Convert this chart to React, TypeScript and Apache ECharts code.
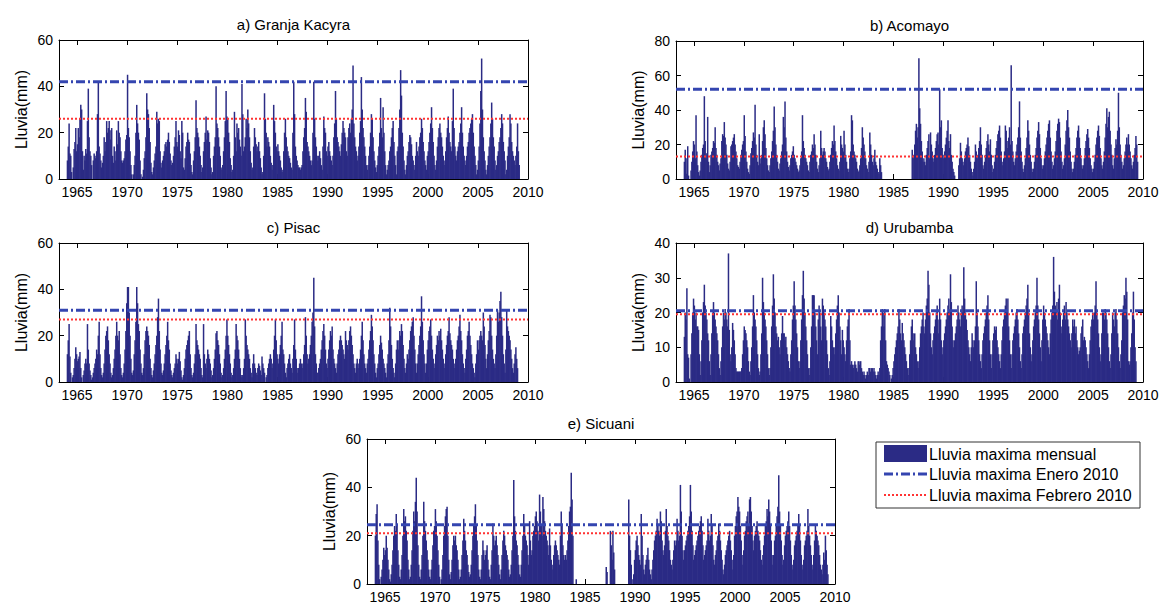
import React, { useEffect, useRef } from "react";
import * as echarts from "echarts";

// ---------- data ----------
const startYear = 1964;
const tickYears = [1965, 1970, 1975, 1980, 1985, 1990, 1995, 2000, 2005, 2010];
const panelTitles = ["a) Granja Kacyra", "b) Acomayo", "c) Pisac", "d) Urubamba", "e) Sicuani"];
const yMax = [60, 80, 60, 40, 60];
const yInterval = [20, 20, 20, 10, 20];
const eneroMax = [42, 52, 31, 20.5, 24.5];
const febreroMax = [26, 13, 27, 19.5, 21];
const legendTexts = ["Lluvia maxima mensual", "Lluvia maxima Enero 2010", "Lluvia maxima Febrero 2010"];

// monthly maximum rainfall (mm), one row per year from 1964, Jan..Dec
const granjaKacyra = [
  [8, 14, 24, 11, 10, 3, 0, 5, 13, 16, 22, 12],
  [15, 22, 18, 26, 32, 30, 12, 4, 10, 8, 13, 11],
  [25, 39, 18, 12, 10, 6, 0, 8, 11, 10, 9, 12],
  [28, 42, 14, 11, 8, 5, 7, 10, 18, 12, 16, 25],
  [20, 22, 25, 21, 17, 22, 10, 7, 14, 12, 8, 21],
  [15, 25, 20, 18, 12, 8, 7, 8, 9, 12, 17, 19],
  [45, 22, 18, 12, 6, 2, 0, 2, 6, 10, 20, 32],
  [24, 20, 17, 8, 2, 0, 1, 4, 9, 12, 18, 37],
  [30, 28, 22, 16, 7, 3, 2, 5, 8, 11, 14, 29],
  [24, 26, 25, 12, 7, 5, 8, 10, 12, 15, 16, 14],
  [17, 20, 16, 11, 8, 6, 7, 10, 14, 18, 25, 16],
  [14, 21, 19, 12, 9, 25, 20, 5, 4, 9, 14, 16],
  [20, 17, 16, 11, 6, 3, 2, 8, 12, 18, 34, 22],
  [20, 18, 14, 10, 6, 3, 5, 12, 16, 20, 27, 17],
  [21, 20, 16, 9, 5, 2, 3, 10, 14, 18, 40, 24],
  [22, 18, 14, 10, 5, 4, 6, 12, 18, 25, 38, 27],
  [26, 20, 16, 9, 6, 3, 4, 10, 29, 18, 12, 24],
  [20, 22, 17, 14, 10, 41, 28, 12, 14, 18, 26, 22],
  [30, 24, 18, 12, 7, 4, 5, 14, 22, 18, 15, 12],
  [14, 16, 12, 9, 5, 2, 3, 10, 37, 26, 20, 14],
  [18, 16, 14, 10, 7, 4, 6, 32, 25, 20, 14, 12],
  [15, 12, 10, 8, 5, 3, 4, 12, 20, 26, 18, 14],
  [12, 10, 9, 7, 5, 4, 20, 42, 28, 14, 10, 8],
  [6, 5, 5, 4, 5, 6, 12, 18, 22, 35, 29, 16],
  [14, 12, 10, 8, 6, 8, 20, 42, 26, 18, 14, 10],
  [8, 10, 12, 9, 6, 4, 14, 27, 22, 20, 12, 10],
  [14, 16, 12, 10, 8, 6, 10, 18, 24, 38, 26, 18],
  [16, 14, 12, 10, 15, 20, 25, 22, 20, 18, 12, 10],
  [18, 22, 24, 20, 26, 30, 49, 24, 18, 14, 12, 8],
  [10, 14, 20, 25, 44, 30, 22, 18, 14, 10, 6, 4],
  [6, 10, 14, 20, 28, 26, 18, 12, 8, 5, 3, 6],
  [10, 14, 20, 35, 22, 18, 31, 20, 12, 6, 2, 4],
  [6, 8, 12, 14, 18, 22, 25, 16, 10, 6, 2, 12],
  [14, 22, 30, 47, 36, 20, 14, 8, 4, 2, 6, 10],
  [12, 16, 19, 18, 15, 10, 8, 6, 4, 10, 16, 12],
  [10, 14, 18, 20, 26, 22, 16, 12, 8, 6, 4, 10],
  [12, 16, 20, 24, 31, 22, 16, 10, 6, 4, 8, 14],
  [18, 22, 24, 20, 18, 14, 10, 8, 6, 12, 18, 22],
  [27, 20, 16, 14, 12, 25, 39, 22, 14, 10, 8, 12],
  [14, 16, 20, 24, 31, 20, 14, 10, 8, 6, 10, 14],
  [16, 20, 22, 24, 26, 28, 20, 14, 10, 6, 2, 4],
  [8, 14, 24, 38, 52, 30, 18, 12, 8, 4, 2, 6],
  [10, 14, 18, 24, 33, 26, 18, 14, 8, 4, 6, 10],
  [12, 16, 18, 22, 28, 24, 16, 12, 8, 2, 4, 10],
  [14, 18, 28, 24, 16, 12, 10, 8, 6, 10, 14, 24],
  [12, 6],
];

const acomayo = [
  [10, 17, 12, 3, 19, 2, 0, 0, 5, 10, 16, 22],
  [20, 12, 37, 16, 8, 4, 2, 5, 10, 14, 18, 20],
  [48, 22, 12, 15, 36, 10, 4, 8, 14, 16, 18, 22],
  [21, 30, 18, 14, 10, 8, 5, 9, 12, 22, 26, 25],
  [33, 24, 20, 14, 9, 6, 5, 10, 19, 20, 22, 24],
  [26, 20, 16, 12, 8, 7, 6, 10, 14, 17, 20, 22],
  [37, 25, 16, 10, 6, 4, 3, 8, 15, 18, 22, 27],
  [24, 43, 20, 14, 10, 8, 26, 12, 9, 14, 22, 30],
  [34, 26, 18, 12, 8, 5, 4, 8, 12, 16, 22, 28],
  [42, 30, 20, 14, 10, 6, 5, 9, 12, 16, 20, 36],
  [30, 45, 24, 16, 10, 7, 5, 8, 12, 14, 16, 19],
  [14, 12, 10, 8, 6, 4, 5, 8, 12, 16, 37, 22],
  [18, 14, 12, 10, 8, 5, 4, 10, 14, 16, 20, 18],
  [26, 20, 14, 10, 6, 4, 8, 12, 28, 18, 14, 16],
  [18, 16, 12, 10, 7, 5, 6, 10, 14, 18, 22, 20],
  [31, 22, 16, 12, 8, 6, 5, 10, 25, 20, 18, 16],
  [28, 20, 14, 10, 6, 4, 6, 12, 16, 37, 34, 20],
  [16, 14, 12, 10, 6, 4, 5, 8, 12, 18, 30, 24],
  [20, 16, 12, 8, 6, 4, 10, 27, 20, 14, 10, 8],
  [12, 17, 10, 8, 6, 4, 3, 12, 8, 4],
  [],
  [],
  [null, null, null, null, null, null, null, null, null, null, 17, 12],
  [14, 20, 28, 32, 24, 30, 70, 41, 32, 22, 16, 10],
  [12, 10, 8, 14, 18, 22, 26, 12, 27, 20, 16, 12],
  [10, 14, 18, 22, 26, 27, 20, 52, 30, 34, 18, 14],
  [12, 16, 20, 24, 28, 34, 22, 18, 26, 14, 10, 6],
  [4, 2, null, null, null, null, 8, 12, 21, 16, 12, 10],
  [8, 12, 16, 18, 20, 24, 19, 14, 10, 6, 4, 2],
  [6, 10, 20, 16, 12, 14, 18, 22, 30, 20, 14, 8],
  [6, 10, 14, 18, 22, 26, 20, 16, 23, 14, 8, 4],
  [6, 10, 14, 18, 22, 26, 28, 31, 24, 16, 10, 8],
  [12, 16, 31, 28, 22, 18, 24, 30, 20, 66, 22, 16],
  [10, 8, 12, 16, 20, 24, 30, 45, 24, 16, 10, 6],
  [4, 8, 12, 18, 24, 34, 28, 20, 14, 10, 6, 4],
  [6, 10, 14, 18, 24, 28, 33, 26, 18, 12, 8, 6],
  [8, 12, 16, 20, 24, 28, 32, 34, 24, 16, 10, 6],
  [8, 12, 16, 22, 28, 32, 35, 33, 24, 16, 10, 6],
  [8, 12, 20, 28, 34, 40, 30, 24, 16, 10, 6, 4],
  [6, 10, 14, 18, 24, 28, 31, 24, 18, 12, 8, 6],
  [8, 12, 18, 22, 26, 29, 24, 18, 12, 8, 6, 4],
  [6, 10, 14, 20, 24, 28, 31, 25, 18, 12, 8, 6],
  [10, 16, 24, 32, 41, 30, 36, 39, 28, 20, 14, 8],
  [6, 12, 18, 23, 20, 28, 50, 30, 20, 14, 10, 6],
  [8, 12, 16, 20, 24, 20, 26, 20, 16, 12, 8, 6],
  [10, 14, 18, 25, 20, 10],
];

const pisac = [
  [12, 18, 25, 11, 4, 0, 2, 3, 6, 10, 15, 12],
  [9, 10, 11, 13, 6, 2, 0, 3, 5, 8, 10, 8],
  [25, 14, 8, 5, 3, 1, 2, 4, 6, 8, 10, 14],
  [12, 20, 26, 12, 6, 3, 2, 4, 8, 14, 20, 22],
  [24, 18, 12, 8, 4, 2, 3, 6, 10, 14, 20, 26],
  [20, 18, 22, 12, 6, 3, 2, 4, 8, 14, 22, 34],
  [41, 41, 30, 20, 10, 4, 3, 5, 12, 18, 26, 41],
  [34, 25, 22, 14, 8, 4, 3, 6, 12, 18, 22, 24],
  [22, 20, 16, 10, 6, 3, 2, 5, 8, 12, 16, 20],
  [28, 36, 22, 14, 8, 4, 3, 5, 8, 12, 16, 20],
  [26, 18, 14, 8, 5, 3, 2, 4, 6, 8, 12, 10],
  [8, 10, 13, 9, 5, 2, 1, 3, 6, 10, 14, 16],
  [18, 20, 22, 12, 6, 3, 2, 4, 8, 12, 25, 18],
  [16, 14, 12, 10, 6, 3, 2, 25, 12, 8, 6, 10],
  [14, 12, 10, 8, 5, 2, 3, 6, 10, 14, 21, 22],
  [18, 16, 12, 8, 4, 2, 3, 6, 10, 14, 20, 27],
  [20, 16, 12, 8, 4, 2, 3, 6, 10, 14, 25, 20],
  [18, 14, 10, 6, 3, 2, 3, 6, 10, 27, 20, 16],
  [14, 12, 10, 6, 4, 2, 8, 12, 8, 6, 4, 3],
  [6, 8, 7, 5, 3, 11, 8, 6, 4, 0, 2, 3],
  [6, 8, 10, 12, 10, 6, 8, 14, 20, 27, 18, 12],
  [10, 8, 12, 16, 20, 26, 14, 12, 8, 4, 2, 6],
  [8, 10, 12, 8, 6, 4, 10, 16, 27, 14, 10, 6],
  [4, 6, 8, 10, 8, 6, 8, 12, 16, 28, 20, 12],
  [8, 10, 12, 16, 20, 26, 30, 45, 24, 12, 8, 4],
  [4, 6, 8, 10, 14, 18, 22, 25, 20, 14, 8, 6],
  [10, 14, 18, 22, 20, 24, 14, 10, 8, 6, 4, 8],
  [12, 14, 18, 20, 18, 16, 14, 12, 10, 22, 18, 16],
  [14, 18, 22, 24, 20, 16, 12, 8, 6, 4, 8, 10],
  [6, 8, 10, 14, 20, 26, 18, 12, 8, 6, 4, 8],
  [10, 14, 18, 22, 29, 24, 18, 12, 8, 4, 2, 6],
  [8, 12, 16, 20, 17, 14, 10, 8, 6, 4, 2, 8],
  [12, 18, 32, 24, 16, 10, 6, 4, 2, 8, 14, 18],
  [14, 18, 22, 20, 25, 22, 16, 10, 6, 4, 8, 12],
  [10, 14, 18, 22, 24, 26, 28, 20, 14, 8, 4, 8],
  [12, 16, 20, 24, 37, 26, 18, 12, 8, 4, 8, 14],
  [18, 22, 24, 27, 20, 14, 10, 8, 6, 12, 16, 20],
  [18, 22, 20, 23, 18, 14, 10, 8, 6, 12, 16, 20],
  [22, 28, 21, 18, 16, 14, 10, 8, 6, 10, 14, 18],
  [20, 24, 29, 22, 18, 12, 8, 6, 4, 10, 14, 20],
  [22, 26, 20, 16, 12, 8, 6, 4, 2, 8, 12, 18],
  [14, 18, 20, 22, 20, 18, 30, 24, 16, 10, 6, 12],
  [18, 22, 29, 28, 20, 14, 10, 8, 6, 12, 20, 31],
  [26, 30, 35, 39, 28, 20, 12, 8, 4, 14, 31, 24],
  [22, 20, 18, 14, 10, 6, 4, 8, 12, 15, 10, 6],
  [],
];

const urubamba = [
  [13, 20, 18, 27, 8, 7, 1, 0, 8, 14, 20, 24],
  [22, 18, 20, 16, 16, 15, 8, 2, 6, 12, 20, 23],
  [28, 22, 20, 18, 14, 12, 6, 2, 8, 14, 20, 23],
  [20, 18, 16, 14, 12, 8, 4, 2, 6, 10, 16, 20],
  [18, 21, 20, 18, 16, 37, 15, 8, 6, 10, 17, 15],
  [12, 8, 4, 3, 3, 3, 3, 3, 3, 4, 8, 12],
  [16, 15, 14, 12, 10, 6, 3, 2, 6, 10, 16, 25],
  [20, 18, 16, 12, 8, 4, 2, 3, 8, 14, 30, 23],
  [20, 18, 16, 12, 8, 4, 2, 4, 10, 16, 22, 31],
  [24, 20, 16, 14, 12, 13, 10, 8, 12, 14, 19, 14],
  [14, 12, 13, 10, 8, 6, 4, 3, 8, 12, 18, 22],
  [29, 22, 18, 14, 10, 6, 4, 6, 12, 18, 25, 32],
  [24, 20, 16, 12, 8, 4, 2, 4, 10, 16, 25, 25],
  [25, 20, 16, 12, 8, 18, 22, 20, 16, 12, 24, 22],
  [20, 18, 16, 12, 8, 4, 2, 6, 19, 16, 12, 10],
  [8, 10, 14, 18, 22, 25, 20, 16, 12, 8, 15, 12],
  [10, 8, 6, 12, 16, 18, 21, 12, 5, 6, 5, 4],
  [5, 6, 5, 4, 3, 6, 6, 5, 6, 4, 3, 2],
  [3, 2, 1, 2, 3, 2, 4, 4, 3, 4, 4, 3],
  [4, 3, 2, 1, 2, 3, 2, 4, 12, 16, 21, 20],
  [16, 21, 12, 6, 5, 4, 3, 2, 0, 1, 2, 4],
  [6, 8, 10, 12, 14, 16, 21, 18, 14, 12, 17, 14],
  [12, 10, 8, 6, 4, 2, 4, 8, 12, 16, 18, 14],
  [12, 14, 10, 8, 6, 4, 6, 10, 14, 16, 18, 20],
  [16, 14, 18, 22, 24, 32, 28, 20, 14, 10, 8, 12],
  [14, 16, 18, 20, 22, 18, 14, 24, 18, 12, 8, 10],
  [12, 14, 16, 18, 20, 22, 24, 20, 31, 23, 16, 12],
  [10, 12, 14, 16, 18, 22, 20, 18, 16, 20, 22, 20],
  [33, 24, 20, 18, 15, 12, 10, 8, 6, 10, 14, 12],
  [10, 12, 16, 29, 20, 16, 12, 8, 6, 4, 8, 12],
  [14, 16, 18, 20, 22, 25, 18, 12, 8, 4, 8, 12],
  [14, 16, 15, 16, 12, 10, 8, 6, 4, 8, 12, 16],
  [18, 20, 22, 24, 20, 24, 16, 12, 8, 4, 8, 12],
  [14, 16, 18, 20, 21, 18, 14, 10, 6, 4, 8, 14],
  [16, 18, 20, 22, 24, 28, 20, 14, 10, 6, 8, 12],
  [16, 18, 20, 22, 30, 22, 18, 14, 10, 6, 12, 18],
  [22, 20, 18, 16, 14, 12, 10, 8, 14, 18, 20, 22],
  [36, 26, 22, 20, 23, 18, 24, 28, 20, 16, 14, 18],
  [20, 22, 18, 23, 20, 18, 16, 14, 12, 10, 14, 18],
  [16, 18, 14, 16, 12, 10, 8, 9, 10, 14, 16, 18],
  [12, 13, 12, 10, 8, 6, 4, 8, 12, 16, 18, 20],
  [18, 20, 22, 29, 20, 18, 14, 10, 6, 8, 14, 20],
  [20, 18, 21, 20, 18, 14, 10, 6, 4, 8, 14, 20],
  [18, 16, 20, 21, 18, 14, 10, 6, 4, 8, 12, 20],
  [22, 25, 24, 30, 26, 18, 6, 5, 6, 10, 14, 20],
  [26, 18, 10, 6],
];

const sicuani = [
  [20, 29, 33, 18, 8, 2, 0, 3, 6, 10, 15, 12],
  [14, 20, 15, 10, 6, 2, 1, 4, 8, 14, 20, 24],
  [22, 29, 24, 14, 8, 3, 2, 6, 12, 20, 31, 26],
  [28, 22, 18, 10, 6, 2, 3, 8, 14, 22, 30, 26],
  [34, 44, 30, 16, 8, 3, 2, 6, 12, 20, 34, 26],
  [22, 18, 14, 10, 6, 3, 2, 6, 10, 16, 22, 24],
  [31, 26, 20, 14, 8, 3, 0, 2, 6, 12, 20, 24],
  [28, 31, 32, 20, 10, 4, 2, 5, 10, 16, 20, 18],
  [20, 16, 14, 10, 6, 2, 3, 6, 12, 18, 27, 22],
  [18, 14, 12, 8, 5, 3, 4, 8, 14, 20, 24, 28],
  [33, 24, 18, 12, 6, 3, 2, 6, 12, 18, 14, 10],
  [12, 14, 16, 10, 6, 3, 2, 8, 14, 25, 20, 16],
  [18, 20, 16, 12, 8, 4, 2, 6, 12, 18, 22, 20],
  [16, 14, 12, 10, 6, 3, 4, 8, 14, 20, 43, 28],
  [22, 18, 16, 12, 8, 4, 3, 8, 14, 20, 29, 24],
  [20, 18, 16, 12, 8, 26, 18, 12, 14, 20, 22, 24],
  [28, 30, 26, 22, 18, 37, 30, 24, 20, 36, 31, 26],
  [22, 20, 18, 16, 12, 23, 16, 10, 8, 6, 12, 16],
  [18, 16, 14, 12, 10, 8, 20, 30, 24, 16, 12, 10],
  [12, 10, 14, 18, 24, 30, 32, 46, 35, 20],
  [null, 2],
  [],
  [],
  [null, 7, 5, null, null, null, 22, 16, 10, 22, 13, 6],
  [],
  [null, null, null, null, 35, 20, 14, 8, 2, 0, 4, 10],
  [14, 18, 20, 16, 12, 10, 8, 29, 20, 12, 6, 4],
  [8, 10, 12, 15, 10, 6, 4, 2, 6, 10, 14, 18],
  [20, 22, 27, 24, 22, 20, 30, 26, 18, 14, 12, 16],
  [22, 31, 24, 20, 18, 14, 10, 8, 6, 10, 14, 18],
  [16, 18, 27, 22, 18, 20, 41, 30, 20, 14, 10, 14],
  [16, 18, 20, 22, 24, 28, 41, 30, 22, 16, 10, 12],
  [14, 16, 18, 20, 22, 24, 26, 28, 22, 16, 10, 12],
  [14, 16, 18, 27, 22, 18, 20, 29, 24, 16, 10, 8],
  [12, 14, 18, 20, 25, 22, 18, 14, 10, 6, 4, 8],
  [12, 14, 16, 18, 20, 22, 18, 14, 10, 6, 12, 20],
  [24, 28, 30, 36, 32, 30, 24, 18, 12, 8, 14, 20],
  [22, 26, 28, 30, 24, 35, 36, 30, 24, 18, 14, 20],
  [22, 24, 26, 22, 20, 18, 14, 10, 8, 12, 16, 20],
  [24, 26, 31, 28, 35, 30, 24, 18, 12, 8, 12, 18],
  [20, 24, 28, 32, 45, 30, 24, 18, 12, 8, 10, 16],
  [20, 22, 24, 26, 30, 24, 18, 12, 8, 6, 10, 16],
  [18, 20, 22, 24, 29, 24, 18, 12, 8, 6, 10, 16],
  [18, 20, 22, 31, 24, 20, 16, 12, 8, 6, 12, 18],
  [24, 22, 20, 18, 16, 12, 8, 6, 4, 8, 13, 10],
  [20, 14, 8, 4],
];

const stations = [granjaKacyra, acomayo, pisac, urubamba, sicuani];

// ---------- layout ----------
const grids = [
  { left: 59, top: 40, width: 469, height: 139 },
  { left: 676, top: 41, width: 467, height: 138 },
  { left: 59, top: 243, width: 469, height: 139 },
  { left: 676, top: 243, width: 467, height: 139 },
  { left: 367, top: 439, width: 468, height: 145 },
];
const X_MIN = 1963.2;
const X_MAX = 2010;
const FONT = "'Liberation Sans', Arial, sans-serif";
const BAR = "#2b2b85";
const BLUE = "#3445b0";
const RED = "#ff3333";

function toPoints(rows: (number | null)[][]) {
  const out: [number, number][] = [];
  rows.forEach((row, r) => {
    row.forEach((v, m) => {
      if (v !== null && v !== undefined) out.push([startYear + r + (m + 0.5) / 12, v]);
    });
  });
  return out;
}

function buildOption() {
  const xAxis: any[] = [];
  const yAxis: any[] = [];
  const series: any[] = [];
  const graphic: any[] = [];
  grids.forEach((g, i) => {
    const common = {
      gridIndex: i,
      type: "value",
      min: X_MIN,
      max: X_MAX,
      splitLine: { show: false },
      axisLine: { show: true, onZero: false, lineStyle: { color: "#000", width: 1 } },
    };
    xAxis.push({
      ...common,
      position: "bottom",
      axisTick: { show: true, inside: true, length: 5, customValues: tickYears, lineStyle: { color: "#000" } },
      axisLabel: { show: true, customValues: tickYears, color: "#000", fontSize: 14, fontFamily: FONT, margin: 6, formatter: (v: number) => String(Math.round(v)) },
    });
    xAxis.push({
      ...common,
      position: "top",
      axisTick: { show: true, inside: true, length: 5, customValues: tickYears, lineStyle: { color: "#000" } },
      axisLabel: { show: false },
    });
    const ycommon = {
      gridIndex: i,
      type: "value",
      min: 0,
      max: yMax[i],
      interval: yInterval[i],
      splitLine: { show: false },
      axisLine: { show: true, lineStyle: { color: "#000", width: 1 } },
      axisTick: { show: true, inside: true, length: 5, lineStyle: { color: "#000" } },
    };
    yAxis.push({
      ...ycommon,
      position: "left",
      axisLabel: { show: true, color: "#000", fontSize: 14, fontFamily: FONT, margin: 6 },
      name: "Lluvia(mm)",
      nameLocation: "middle",
      nameGap: 30,
      nameTextStyle: { color: "#000", fontSize: 16, fontFamily: FONT },
    });
    yAxis.push({
      ...ycommon,
      position: "right",
      axisLabel: { show: false },
    });
    series.push({
      type: "bar",
      name: legendTexts[0],
      xAxisIndex: 2 * i,
      yAxisIndex: 2 * i,
      data: toPoints(stations[i]),
      barWidth: 1.5,
      itemStyle: { color: BAR },
      silent: true,
    });
    series.push({
      type: "line",
      name: legendTexts[1],
      xAxisIndex: 2 * i,
      yAxisIndex: 2 * i,
      data: [[X_MIN, eneroMax[i]], [X_MAX, eneroMax[i]]],
      symbol: "none",
      lineStyle: { color: BLUE, width: 3, type: [9, 3, 2, 3] },
      z: 5,
      silent: true,
    });
    series.push({
      type: "line",
      name: legendTexts[2],
      xAxisIndex: 2 * i,
      yAxisIndex: 2 * i,
      data: [[X_MIN, febreroMax[i]], [X_MAX, febreroMax[i]]],
      symbol: "none",
      lineStyle: { color: RED, width: 2, type: [2, 2] },
      z: 6,
      silent: true,
    });
    graphic.push({
      type: "text",
      x: g.left + g.width / 2,
      y: g.top - 16,
      style: {
        text: panelTitles[i],
        fill: "#000",
        font: `15px ${FONT}`,
        align: "center",
        verticalAlign: "middle",
        textAlign: "center",
        textVerticalAlign: "middle",
      },
    });
  });

  // legend box
  graphic.push({ type: "rect", shape: { x: 876, y: 442, width: 264, height: 66 }, style: { fill: "#fff", stroke: "#333", lineWidth: 1 } });
  graphic.push({ type: "rect", shape: { x: 884, y: 445, width: 43, height: 17 }, style: { fill: BAR } });
  graphic.push({ type: "line", shape: { x1: 884, y1: 474, x2: 927, y2: 474 }, style: { stroke: BLUE, lineWidth: 3, lineDash: [9, 3, 2, 3] } });
  graphic.push({ type: "line", shape: { x1: 884, y1: 495, x2: 927, y2: 495 }, style: { stroke: RED, lineWidth: 2, lineDash: [2, 2] } });
  const legendY = [454, 474, 495];
  legendTexts.forEach((t, k) => {
    graphic.push({
      type: "text",
      x: 929,
      y: legendY[k],
      style: { text: t, fill: "#000", font: `16px ${FONT}`, align: "left", verticalAlign: "middle", textAlign: "left", textVerticalAlign: "middle" },
    });
  });

  return {
    animation: false,
    backgroundColor: "#fff",
    textStyle: { fontFamily: FONT },
    grid: grids.map((g) => ({ ...g, containLabel: false })),
    xAxis,
    yAxis,
    series,
    graphic,
  };
}

export default function App() {
  const ref = useRef<HTMLDivElement>(null);
  useEffect(() => {
    if (!ref.current) return;
    const chart = echarts.init(ref.current, undefined, { renderer: "svg" });
    chart.setOption(buildOption() as any);
    return () => chart.dispose();
  }, []);
  return (
    <div
      ref={ref}
      style={{ position: "absolute", left: 0, top: 0, width: 1164, height: 604, background: "#fff" }}
    />
  );
}
